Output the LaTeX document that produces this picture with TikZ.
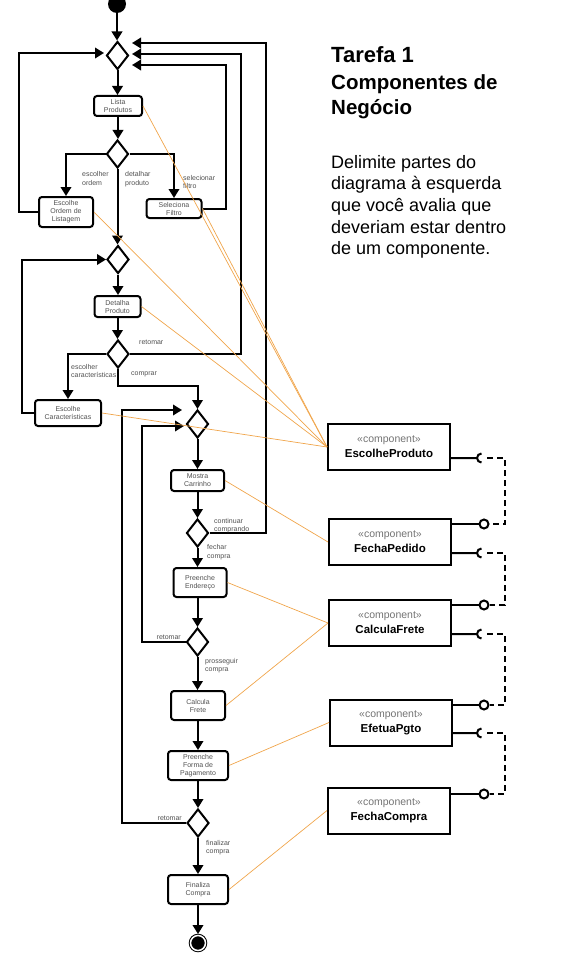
\documentclass[tikz,border=0pt]{standalone}
\usepackage{fontspec}
\setmainfont{Liberation Sans}
\usepackage{tikz}
\usetikzlibrary{arrows.meta,shapes.geometric}
\definecolor{linkorange}{RGB}{240,165,75}
\definecolor{txtgray}{RGB}{80,80,80}
\newcommand{\compstereo}{{\fontsize{10.5}{13}\selectfont\mdseries\color{black!55}«component»}}

\tikzset{
  act/.style={draw, line width=2pt, rounded corners=3pt, inner sep=0pt, align=center,
    text=txtgray, font=\fontsize{7}{8}\selectfont},
  decision/.style={draw, diamond, line width=2pt, minimum width=22pt,
    minimum height=28pt, inner sep=0pt},
  lbl/.style={inner sep=0pt, align=left, anchor=west, text=txtgray,
    font=\fontsize{7}{8.5}\selectfont},
  flow/.style={->, line width=2pt},
  link/.style={draw=linkorange, line width=0.7pt},
  comp/.style={draw, line width=2pt, minimum width=122pt, minimum height=46pt,
    align=center, inner sep=0pt, font=\fontsize{11.5}{15}\selectfont\bfseries},
  ball/.style={draw, circle, line width=2pt, minimum size=9pt, inner sep=0pt},
  dep/.style={line width=2pt, dash pattern=on 6pt off 4pt}
}

\begin{document}
\begin{tikzpicture}[x=1pt,y=-1pt,>={Triangle[length=9pt,width=10.5pt]}]
  \useasboundingbox (0,0) rectangle (576,960);

  % Title
  \node[anchor=base west, inner sep=0pt, font=\fontsize{22}{26}\selectfont\bfseries] %
    (title) at (331,63) {Tarefa 1};
  \node[anchor=north west, inner sep=0pt, align=left, %
    font=\fontsize{20.5}{25}\selectfont\bfseries] %
    (subtitle) at (331,74) {Componentes de\\Negócio};
  \node[anchor=north west, inner sep=0pt, align=left, %
    font=\fontsize{18}{21.6}\selectfont] %
    (task) at (331,155) {Delimite partes do\\diagrama à esquerda\\que você avalia que\\%
    deveriam estar dentro\\de um componente.};

  % Activities
  \node[circle, fill, minimum size=18pt, inner sep=0pt] (ini) at (117,4) {};
  \node[decision] (d1) at (117.5,55.5) {};
  \node[act, minimum width=48pt, minimum height=20pt] (lp) at (118,106) {Lista\\Produtos};
  \node[decision] (d2) at (117.5,154) {};
  \node[act, minimum width=54pt, minimum height=30pt] (eo) at (66,212) {Escolhe\\Ordem de\\Listagem};
  \node[act, minimum width=55pt, minimum height=19pt] (sf) at (174,208.5) {Seleciona\\Filtro};
  \node[decision] (d3) at (118,259.5) {};
  \node[act, minimum width=46pt, minimum height=21pt] (dp) at (117.5,306.5) {Detalha\\Produto};
  \node[decision] (d4) at (118,354) {};
  \node[act, minimum width=66pt, minimum height=26pt] (ec) at (68,413) {Escolhe\\Características};
  \node[decision] (d5) at (197.5,424) {};
  \node[act, minimum width=53pt, minimum height=21pt] (mc) at (197.5,480.5) {Mostra\\Carrinho};
  \node[decision] (d6) at (197.5,533) {};
  \node[act, minimum width=53pt, minimum height=29pt] (pe) at (200,582.5) {Preenche\\Endereço};
  \node[decision] (d7) at (197.5,642) {};
  \node[act, minimum width=54pt, minimum height=29pt] (cf) at (198,705.5) {Calcula\\Frete};
  \node[act, minimum width=60pt, minimum height=29pt] (pf) at (198,765.5) {Preenche\\Forma de\\Pagamento};
  \node[decision] (d8) at (198,823) {};
  \node[act, minimum width=60pt, minimum height=29pt] (fc) at (198,889.5) {Finaliza\\Compra};
  \node[circle, draw, fill, minimum size=15pt, inner sep=0pt, line width=1pt, %
    double=white, double distance=1.5pt, outer sep=1.5pt] (fim) at (198,943) {};

  % Loop ends
  \coordinate (in0) at (104,53);
  \coordinate (in1) at (132,65);
  \coordinate (in2) at (132,54);
  \coordinate (in3) at (132,43);
  \coordinate (in4) at (182,410);
  \coordinate (in5) at (184,426);
  \coordinate (r0) at (226,65);
  \coordinate (r1) at (241,54);
  \coordinate (r2) at (266,43);

  % Flow
  \foreach \a/\b in {ini/d1, d1/lp, lp/d2, d2/d3, d3/dp, dp/d4, d5/mc, mc/d6, %
    d6/pe, d7/cf, cf/pf, pf/d8, d8/fc, fc/fim}
    \draw[flow] (\a.south) -- (\a.south |- \b.north);
  \draw[flow] (d7.north |- pe.south) -- (d7.north);
  \draw[flow] (d2.west) -| (eo.north);
  \draw[flow] (d2.east) -| (sf.north);
  \draw[flow] (eo.west) -- ++(-19,0) |- (in0);
  \draw[flow] (sf.east) -| (r0) -- (in1);
  \draw[flow] (ec.west) -- ++(-12,0) |- (d3.west);
  \draw[flow] (d4.west) -| (ec.north);
  \draw[flow] (d4.east) -| (r1) -- (in2);
  \draw[flow] (d4.south) -- ++(0,17) -| (d5.north);
  \draw[flow] (d6.east) -| (r2) -- (in3);
  \draw[flow] (d7.west) -- ++(-43.5,0) |- (in5);
  \draw[flow] (d8.west) -- ++(-64,0) |- (in4);

  % Guards
  \node[lbl] (g1) at (82,178.5) {escolher\\ordem};
  \node[lbl] (g2) at (125,179) {detalhar\\produto};
  \node[lbl] (g3) at (183,182) {selecionar\\filtro};
  \node[lbl] (g4) at (139,342) {retomar};
  \node[lbl] (g5) at (71,371) {escolher\\características};
  \node[lbl] (g6) at (131,374) {comprar};
  \node[lbl] (g7) at (214,525.5) {continuar\\comprando};
  \node[lbl] (g8) at (207,552) {fechar\\compra};
  \node[lbl, anchor=east] (g9) at (181,637) {retomar};
  \node[lbl] (g10) at (205,665.5) {prosseguir\\compra};
  \node[lbl, anchor=east] (g11) at (182,818) {retomar};
  \node[lbl] (g12) at (206,847.5) {finalizar\\compra};

  % Components
  \node[comp] (cp1) at (389,447) {\compstereo\\EscolheProduto};
  \node[comp] (cp2) at (390,542) {\compstereo\\FechaPedido};
  \node[comp] (cp3) at (390,623) {\compstereo\\CalculaFrete};
  \node[comp] (cp4) at (391,722.5) {\compstereo\\EfetuaPgto};
  \node[comp] (cp5) at (389,810.5) {\compstereo\\FechaCompra};

  % Interfaces
  \coordinate (s1) at (477,458);
  \coordinate (s2) at (477,553);
  \coordinate (s3) at (477,634);
  \coordinate (s4) at (477,733);
  \node[ball] (b2) at (484,524) {};
  \node[ball] (b3) at (484,605) {};
  \node[ball] (b4) at (484,705) {};
  \node[ball] (b5) at (484,794) {};
  \foreach \n in {1,2,3,4}
    \draw[line width=2pt] (cp\n.east |- s\n) -- (s\n) arc (180:90:4.5) %
      (s\n) arc (180:270:4.5);
  \foreach \n in {2,3,4,5}
    \draw[line width=2pt] (cp\n.east |- b\n) -- (b\n);
  \foreach \s/\b in {1/2, 2/3, 3/4, 4/5}
    \draw[dep] ([xshift=10pt]s\s) -- ++(18,0) |- (b\b);

  % Traces
  \foreach \n in {lp, sf, eo, dp, ec}
    \draw[link] (\n.east) -- (cp1.west);
  \draw[link] (mc.east) -- (cp2.west);
  \foreach \n in {pe, cf}
    \draw[link] (\n.east) -- (cp3.west);
  \draw[link] (pf.east) -- (cp4.west);
  \draw[link] (fc.east) -- (cp5.west);
\end{tikzpicture}
\end{document}
